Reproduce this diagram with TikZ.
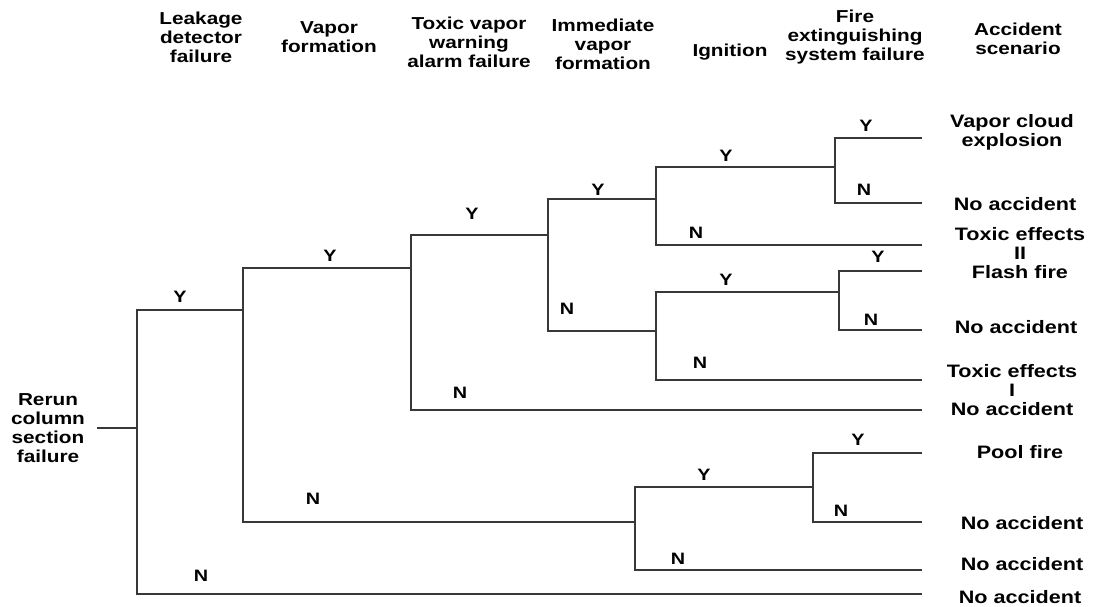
\documentclass[tikz,border=0pt]{standalone}
\usepackage{fontspec}
\setmainfont{Liberation Sans}[FakeStretch=1.2]
\begin{document}
\begin{tikzpicture}[x=1pt,y=-1pt,
  branch/.style={draw=black!78, line width=1.2pt, line join=miter},
  hdr/.style={font=\fontsize{17.3}{19}\selectfont\bfseries, align=center, inner sep=0pt},
  outcome/.style={font=\fontsize{18}{19}\selectfont\bfseries, align=center, inner sep=0pt},
  yn/.style={font=\fontsize{16.5}{16.5}\selectfont\bfseries, inner sep=0pt}]
\useasboundingbox (0,0) rectangle (1096,606);

% column headings
\node[hdr] (h1) at (201,37) {Leakage\\detector\\failure};
\node[hdr] (h2) at (329,37) {Vapor\\formation};
\node[hdr] (h3) at (469,42) {Toxic vapor\\warning\\alarm failure};
\node[hdr] (h4) at (603,44) {Immediate\\vapor\\formation};
\node[hdr] (h5) at (730,52) {Ignition};
\node[hdr] (h6) at (855,37) {Fire\\extinguishing\\system failure};
\node[hdr] (h7) at (1018,39) {Accident\\scenario};

% initiating event
\node[hdr] (ie) at (48,428) {Rerun\\column\\section\\failure};

% branch points
\coordinate (r0) at (97,428);
\coordinate (b0) at (137,428);
\coordinate (b1) at (243,310);
\coordinate (b2) at (411,268);
\coordinate (b3) at (548,235);
\coordinate (b4a) at (656,199);
\coordinate (b5a) at (835,167);
\coordinate (b4b) at (656,331);
\coordinate (b5b) at (839,292);
\coordinate (b4c) at (635,522);
\coordinate (b5c) at (813,487);

% branch ends
\coordinate (e5aY) at (922,138);
\coordinate (e5aN) at (922,203);
\coordinate (e4aN) at (922,245);
\coordinate (e5bY) at (922,271);
\coordinate (e5bN) at (922,330);
\coordinate (e4bN) at (922,380);
\coordinate (e2N)  at (922,410);
\coordinate (e5cY) at (922,453);
\coordinate (e5cN) at (922,522);
\coordinate (e4cN) at (922,570);
\coordinate (e0N)  at (922,594);

% event tree
\draw[branch] (r0) -- (b0);
\draw[branch] (b0) |- (b1);   \draw[branch] (b0) |- (e0N);
\draw[branch] (b1) |- (b2);   \draw[branch] (b1) |- (b4c);
\draw[branch] (b2) |- (b3);   \draw[branch] (b2) |- (e2N);
\draw[branch] (b3) |- (b4a);  \draw[branch] (b3) |- (b4b);
\draw[branch] (b4a) |- (b5a); \draw[branch] (b4a) |- (e4aN);
\draw[branch] (b5a) |- (e5aY); \draw[branch] (b5a) |- (e5aN);
\draw[branch] (b4b) |- (b5b); \draw[branch] (b4b) |- (e4bN);
\draw[branch] (b5b) |- (e5bY); \draw[branch] (b5b) |- (e5bN);
\draw[branch] (b4c) |- (b5c); \draw[branch] (b4c) |- (e4cN);
\draw[branch] (b5c) |- (e5cY); \draw[branch] (b5c) |- (e5cN);

% Y / N labels
\node[yn] (y0) at (180,297) {Y};
\node[yn] (n0) at (201,576) {N};
\node[yn] (y1) at (330,256) {Y};
\node[yn] (n1) at (313,499) {N};
\node[yn] (y2) at (472,214) {Y};
\node[yn] (n2) at (460,393) {N};
\node[yn] (y3) at (598,190) {Y};
\node[yn] (n3) at (567,309) {N};
\node[yn] (y4a) at (726,156) {Y};
\node[yn] (n4a) at (696,233) {N};
\node[yn] (y5a) at (866,126) {Y};
\node[yn] (n5a) at (864,190) {N};
\node[yn] (y4b) at (726,280) {Y};
\node[yn] (n4b) at (700,363) {N};
\node[yn] (y5b) at (878,257) {Y};
\node[yn] (n5b) at (871,320) {N};
\node[yn] (y4c) at (704,475) {Y};
\node[yn] (n4c) at (678,559) {N};
\node[yn] (y5c) at (858,440) {Y};
\node[yn] (n5c) at (841,511) {N};

% accident scenarios
\node[outcome] (o1) at (1012,132) {Vapor cloud\\explosion};
\node[outcome] (o2) at (1015,204) {No accident};
\node[outcome] (o3) at (1020,253) {Toxic effects\\II\\Flash fire};
\node[outcome] (o4) at (1016,327) {No accident};
\node[outcome] (o5) at (1012,390) {Toxic effects\\I\\No accident};
\node[outcome] (o6) at (1020,452) {Pool fire};
\node[outcome] (o7) at (1022,523) {No accident};
\node[outcome] (o8) at (1022,564) {No accident};
\node[outcome] (o9) at (1020,597) {No accident};
\end{tikzpicture}
\end{document}
